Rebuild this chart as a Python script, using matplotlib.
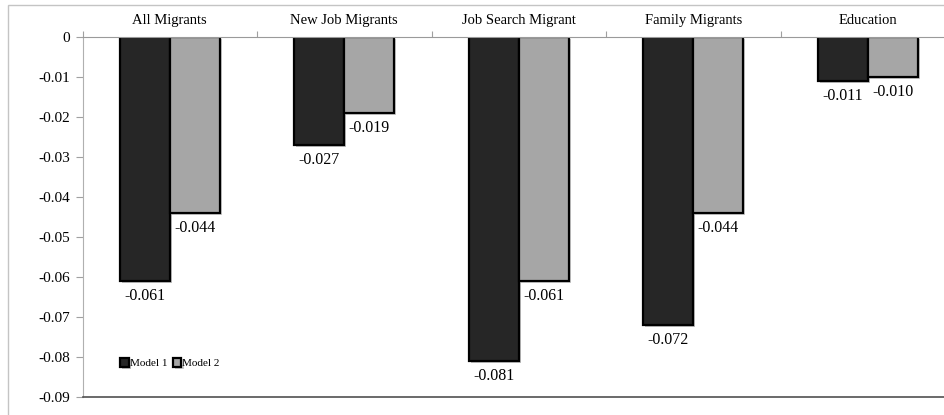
"""
Migration effect estimates by migrant type, two model specifications
"""
import numpy as np
import matplotlib
matplotlib.use("Agg")
import matplotlib.pyplot as plt
import matplotlib.patheffects as pe
from matplotlib.patches import Rectangle
from matplotlib.ticker import FuncFormatter

plt.rcParams['font.family'] = ['Liberation Serif', 'DejaVu Serif']

categories = ['All Migrants', 'New Job Migrants', 'Job Search Migrant',
              'Family Migrants', 'Education']
model1 = [-0.061, -0.027, -0.081, -0.072, -0.011]
model2 = [-0.044, -0.019, -0.061, -0.044, -0.010]
series_names = ['Model 1', 'Model 2']
yticks = [0, -0.01, -0.02, -0.03, -0.04, -0.05, -0.06, -0.07, -0.08, -0.09]

fig = plt.figure(figsize=(9.44, 4.15), dpi=100)

# outer chart frame (light grey box)
fig.patches.append(Rectangle((8 / 944, -0.2), 1.2, 0.2 + 1 - 5 / 415,
                             transform=fig.transFigure, fill=False,
                             edgecolor='#c4c4c4', linewidth=1.0))

ax = fig.add_axes([82.5 / 944, 1 - 397 / 415, 872.5 / 944, 360 / 415])

x = np.arange(len(categories)) + 0.5
w = 50 / 174.5

shadow = [pe.SimplePatchShadow(offset=(1.5, -1.5), alpha=0.25), pe.Normal()]
b1 = ax.bar(x - w / 2, model1, w, color='#262626', edgecolor='black',
            linewidth=1.6, label=series_names[0], path_effects=shadow)
b2 = ax.bar(x + w / 2, model2, w, color='#a6a6a6', edgecolor='black',
            linewidth=1.6, label=series_names[1], path_effects=shadow)

for bars, vals in ((b1, model1), (b2, model2)):
    for rect, v in zip(bars, vals):
        ax.annotate('%.3f' % v, (rect.get_x() + rect.get_width() / 2, v),
                    xytext=(0, -10.5), textcoords='offset points',
                    ha='center', va='center', fontsize=11.5)

ax.set_xlim(0, len(categories))
ax.set_ylim(-0.09, 0)
ax.set_yticks(yticks)
ax.yaxis.set_major_formatter(FuncFormatter(lambda v, p: '0' if v == 0 else '%.2f' % v))
ax.tick_params(axis='y', direction='out', length=5, color='#a0a0a0',
               labelsize=11, pad=4)

# category boundary ticks along the zero line
ax.xaxis.tick_top()
ax.set_xticks(np.arange(len(categories) + 1))
ax.set_xticklabels([])
ax.tick_params(axis='x', direction='out', length=4, color='#a0a0a0')

for xi, name in zip(x, categories):
    ax.text(xi, 1.047, name, transform=ax.get_xaxis_transform(),
            ha='center', va='center', fontsize=10.5)

ax.spines['right'].set_visible(False)
ax.spines['left'].set_color('#b0b0b0')
ax.spines['top'].set_color('#9a9a9a')
ax.spines['bottom'].set_color('#505050')
ax.spines['bottom'].set_linewidth(1.2)

leg = ax.legend(loc='center left', bbox_to_anchor=(0.038, 0.094), ncol=2,
                frameon=False, fontsize=8, handlelength=0.8, handleheight=0.8,
                columnspacing=0.5, handletextpad=0.05, borderaxespad=0)

fig.savefig('out.png', dpi=100)
